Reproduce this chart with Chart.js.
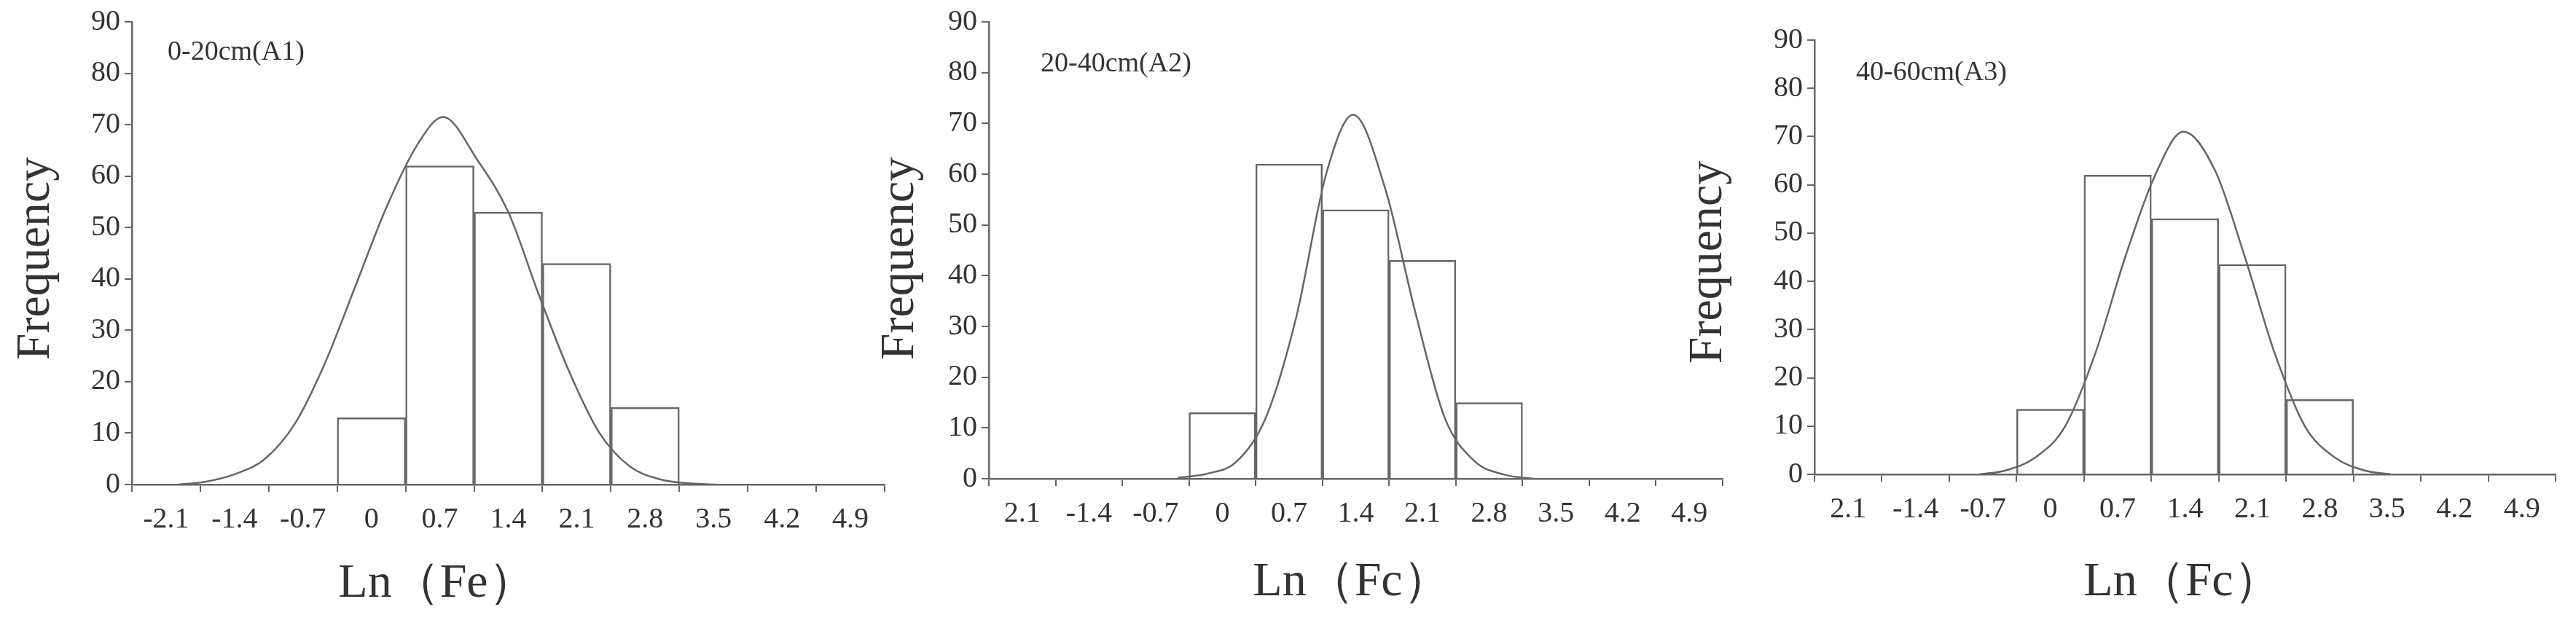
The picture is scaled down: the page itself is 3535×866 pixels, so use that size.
<!DOCTYPE html>
<html>
<head>
<meta charset="utf-8">
<script src="https://cdn.jsdelivr.net/npm/chart.js@4"></script>
<style>
  body { margin: 0; background: #fff; }
  #wrap { position: relative; width: 3535px; height: 866px; }
  canvas { position: absolute; left: 0; top: 0; }
</style>
</head>
<body>
<div id="wrap">
  <canvas id="c1" width="3535" height="866"></canvas>
  <canvas id="c2" width="3535" height="866"></canvas>
  <canvas id="c3" width="3535" height="866"></canvas>
</div>
<script>
// bins (centres) and their tick labels
const binCentres = [-2.1, -1.4, -0.7, 0, 0.7, 1.4, 2.1, 2.8, 3.5, 4.2, 4.9];
const tickLabelsA1 = ["-2.1", "-1.4", "-0.7", "0", "0.7", "1.4", "2.1", "2.8", "3.5", "4.2", "4.9"];
const tickLabelsA2 = ["2.1", "-1.4", "-0.7", "0", "0.7", "1.4", "2.1", "2.8", "3.5", "4.2", "4.9"];

// histogram counts per bin
const countsA1 = [0, 0, 0, 13, 62, 53, 43, 15, 0, 0, 0];
const countsA2 = [0, 0, 0, 13, 62, 53, 43, 15, 0, 0, 0];
const countsA3 = [0, 0, 0, 13.5, 62, 53, 43.5, 15.5, 0, 0, 0];

// fitted curves
const curveXA1 = [-2.4, -2.1, -1.75, -1.4, -1.05, -0.7, -0.35, 0, 0.35, 0.65, 1.05, 1.4, 1.75, 2.1, 2.45, 2.8, 3.15, 3.5, 3.8];
const curveYA1 = [0, 0.5, 2, 5, 12, 24, 39, 54, 66, 71.5, 63, 53, 37, 22, 10, 3.5, 1, 0.2, 0];
const curveXA2 = [-0.7, -0.35, 0, 0.35, 0.7, 1.05, 1.37, 1.75, 2.1, 2.45, 2.8, 3.15, 3.5];
const curveYA2 = [0.2, 1, 3.5, 12.5, 32, 60, 71.7, 57, 33, 12, 3.5, 0.8, 0];
const curveXA3 = [-1.0, -0.7, -0.35, 0, 0.35, 0.7, 1.05, 1.38, 1.75, 2.1, 2.45, 2.8, 3.15, 3.5, 3.8];
const curveYA3 = [0, 0.8, 3.5, 10, 25, 45, 62, 71, 63, 45, 25, 10, 3.5, 0.8, 0];

const FONT = "'Liberation Serif', 'DejaVu Serif', serif";
const INK = "#333";
const LINE = "#666";

// text drawn at fixed page spots (title, y label, panel tag)
const textPlugin = {
  id: "panelText",
  afterDraw(chart, args, opts) {
    const ctx = chart.ctx;
    ctx.save();
    ctx.fillStyle = INK;
    ctx.textBaseline = "middle";
    ctx.font = "38px " + FONT;
    ctx.textAlign = "left";
    ctx.fillText(opts.tag, opts.tagX, opts.tagY);
    ctx.font = "66px " + FONT;
    ctx.textAlign = "center";
    ctx.fillText(opts.xTitle, opts.xTitleX, opts.xTitleY);
    ctx.translate(opts.yTitleX, opts.yTitleY);
    ctx.rotate(-Math.PI / 2);
    ctx.fillText("Frequency", 0, 0);
    ctx.restore();
  },
};

function makePanel(id, p) {
  const yWidth = 100;
  const min = binCentres[0] - 0.35;
  const max = binCentres[binCentres.length - 1] + 0.35;
  new Chart(document.getElementById(id), {
    type: "bar",
    data: {
      labels: p.labels,
      datasets: [
        {
          type: "line",
          data: p.curveX.map((x, i) => ({ x, y: p.curveY[i] })),
          xAxisID: "x2",
          borderColor: LINE,
          borderWidth: 2.5,
          pointRadius: 0,
          tension: 0.35,
          cubicInterpolationMode: "monotone",
          fill: false,
          order: 0,
        },
        {
          data: p.counts,
          backgroundColor: "#fff",
          borderColor: LINE,
          borderWidth: 2.5,
          barPercentage: 1,
          categoryPercentage: 1,
          grouped: false,
          order: 1,
        },
      ],
    },
    options: {
      responsive: false,
      devicePixelRatio: 1,
      animation: false,
      layout: {
        padding: { left: p.left - yWidth, right: 3535 - p.right, top: p.top, bottom: 0 },
      },
      plugins: {
        legend: { display: false },
        tooltip: { enabled: false },
        panelText: p.text,
      },
      scales: {
        x: {
          offset: true,
          grid: { offset: true, drawOnChartArea: false, color: LINE, lineWidth: 2, tickLength: 10 },
          border: { color: LINE, width: 2.5 },
          ticks: { color: INK, font: { family: FONT, size: 40 }, padding: 14, maxRotation: 0, autoSkip: false },
          afterFit: (s) => { s.height = 866 - p.bottom; },
        },
        x2: { type: "linear", min, max, display: false },
        y: {
          min: 0,
          max: 90,
          grid: { drawOnChartArea: false, color: LINE, lineWidth: 2, tickLength: 10 },
          border: { color: LINE, width: 2.5 },
          ticks: { stepSize: 10, color: INK, font: { family: FONT, size: 40 }, padding: 6 },
          afterFit: (s) => { s.width = yWidth; },
        },
      },
    },
    plugins: [textPlugin],
  });
}

makePanel("c1", {
  labels: tickLabelsA1, counts: countsA1, curveX: curveXA1, curveY: curveYA1,
  left: 181, right: 1214, top: 24, bottom: 665,
  text: { tag: "0-20cm(A1)", tagX: 230, tagY: 72, xTitle: "Ln（Fe）", xTitleX: 600, xTitleY: 802, yTitleX: 50, yTitleY: 355 },
});
makePanel("c2", {
  labels: tickLabelsA2, counts: countsA2, curveX: curveXA2, curveY: curveYA2,
  left: 1357, right: 2364, top: 25, bottom: 657,
  text: { tag: "20-40cm(A2)", tagX: 1428, tagY: 88, xTitle: "Ln（Fc）", xTitleX: 1855, xTitleY: 800, yTitleX: 1236, yTitleY: 355 },
});
makePanel("c3", {
  labels: tickLabelsA2, counts: countsA3, curveX: curveXA3, curveY: curveYA3,
  left: 2490, right: 3507, top: 55, bottom: 651,
  text: { tag: "40-60cm(A3)", tagX: 2547, tagY: 100, xTitle: "Ln（Fc）", xTitleX: 2995, xTitleY: 800, yTitleX: 2345, yTitleY: 360 },
});
</script>
</body>
</html>
